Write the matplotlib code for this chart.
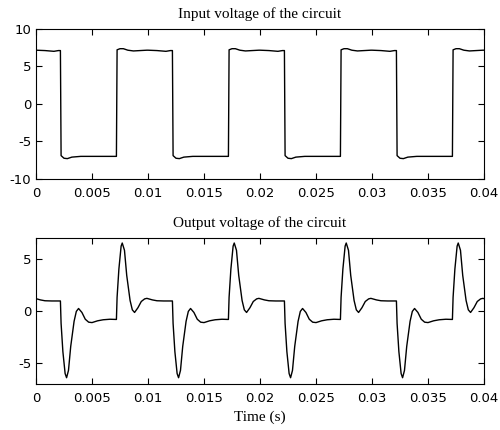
import numpy as np
import matplotlib
matplotlib.use('Agg')
import matplotlib.pyplot as plt

period = 0.01
n_periods = 4

# one period of each trace (t in s, v in V)
in_t = [0.0, 0.0008, 0.0016, 0.0020, 0.00218, 0.00224, 0.0025, 0.0028, 0.0032, 0.0040,
        0.0060, 0.00718, 0.00724, 0.0075, 0.0078, 0.0082, 0.0087, 0.0093, 0.0099]
in_v = [7.15, 7.1, 7.0, 7.1, 7.1, -6.9, -7.25, -7.3, -7.1, -7.0,
        -7.0, -7.0, 7.2, 7.35, 7.35, 7.15, 7.05, 7.1, 7.15]

out_t = [0.0, 0.0004, 0.0008, 0.0014, 0.00218, 0.00224, 0.0024, 0.0026, 0.00273, 0.0029,
         0.0031, 0.0034, 0.0036, 0.0038, 0.0041, 0.0044, 0.0047, 0.0050, 0.0055, 0.0060,
         0.0066, 0.00718, 0.00724, 0.0074, 0.0076, 0.0077, 0.0079, 0.0081, 0.0084, 0.0086,
         0.0088, 0.0091, 0.0094, 0.0097, 0.0099]
out_v = [1.17, 1.05, 0.97, 0.95, 0.95, -1.2, -3.9, -6.0, -6.4, -5.7,
         -3.4, -1.0, -0.05, 0.23, -0.15, -0.8, -1.08, -1.12, -0.95, -0.85,
         -0.8, -0.82, 1.3, 4.0, 6.2, 6.5, 5.8, 3.4, 1.0, 0.1,
         -0.15, 0.3, 0.9, 1.15, 1.2]

x_ticks = [0, 0.005, 0.01, 0.015, 0.02, 0.025, 0.03, 0.035, 0.04]
x_labels = ['0', '0.005', '0.01', '0.015', '0.02', '0.025', '0.03', '0.035', '0.04']


def repeat(t, v):
    tt = np.concatenate([np.array(t) + k * period for k in range(n_periods)] + [[n_periods * period]])
    vv = np.concatenate([np.array(v)] * n_periods + [[v[0]]])
    return tt, vv


t1, v1 = repeat(in_t, in_v)
t2, v2 = repeat(out_t, out_v)

plt.rcParams['font.family'] = ['DejaVu Sans']
plt.rcParams['axes.unicode_minus'] = False

fig = plt.figure(figsize=(5, 4.3), dpi=100)
ax1 = fig.add_axes([0.072, 0.584, 0.896, 0.349])
ax2 = fig.add_axes([0.072, 0.107, 0.896, 0.340])

for ax in (ax1, ax2):
    ax.tick_params(direction='in', top=True, right=True, length=4.5, width=0.8,
                   labelsize=9.5, colors='black')
    ax.tick_params(axis='x', pad=5.5)
    ax.tick_params(axis='y', pad=3.5)
    for s in ax.spines.values():
        s.set_linewidth(0.8)
    ax.set_xlim(0, 0.04)
    ax.set_xticks(x_ticks)
    ax.set_xticklabels(x_labels)

ax1.plot(t1, v1, color='black', lw=1.0)
ax1.set_ylim(-10, 10)
ax1.set_yticks([-10, -5, 0, 5, 10])
ax1.set_title('Input voltage of the circuit', family='Liberation Serif', fontsize=11, pad=8)

ax2.plot(t2, v2, color='black', lw=1.0)
ax2.set_ylim(-7, 7)
ax2.set_yticks([-5, 0, 5])
ax2.set_title('Output voltage of the circuit', family='Liberation Serif', fontsize=11, pad=8)
ax2.set_xlabel('Time (s)', family='Liberation Serif', fontsize=11, labelpad=4.5)

fig.savefig('out.png', dpi=100)
